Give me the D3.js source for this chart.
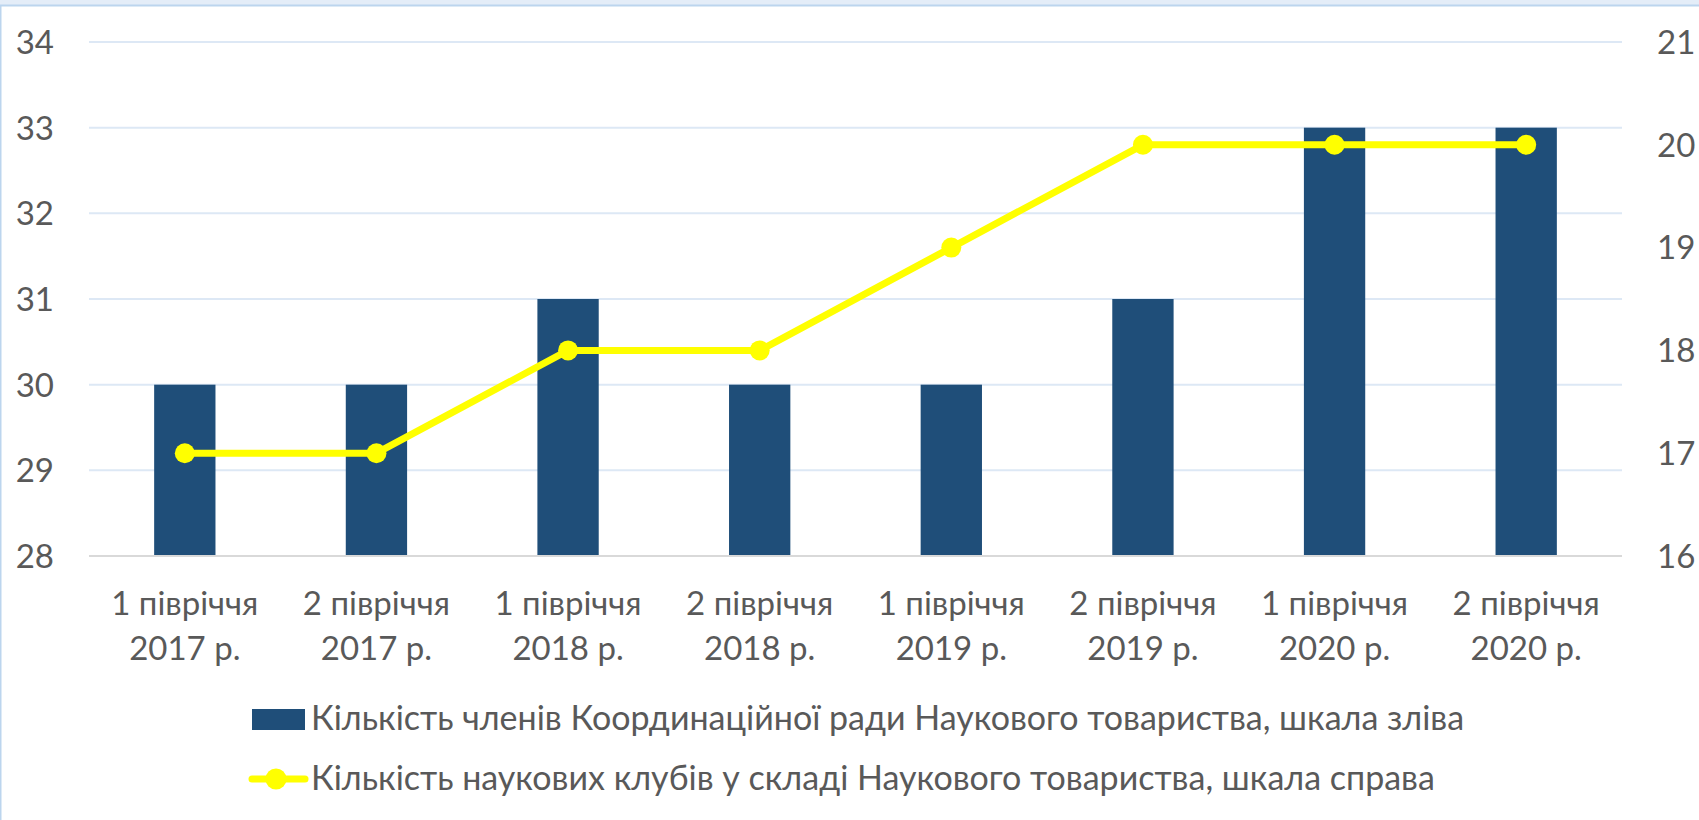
<!DOCTYPE html>
<html>
<head>
<meta charset="utf-8">
<script src="https://cdn.jsdelivr.net/npm/d3@7"></script>
<style>
  html, body { margin: 0; padding: 0; background: #fff; }
  svg { display: block; font-family: Lato, "Open Sans", sans-serif; }
</style>
</head>
<body>
<svg id="chart"></svg>
<script>
// chart data
var categories = ["1 півріччя|2017 р.", "2 півріччя|2017 р.", "1 півріччя|2018 р.", "2 півріччя|2018 р.",
                  "1 півріччя|2019 р.", "2 півріччя|2019 р.", "1 півріччя|2020 р.", "2 півріччя|2020 р."];
var members = [30, 30, 31, 30, 30, 31, 33, 33];
var clubs = [17, 17, 18, 18, 19, 20, 20, 20];
var leftTicks = [28, 29, 30, 31, 32, 33, 34];
var rightTicks = [16, 17, 18, 19, 20, 21];
var seriesNames = ["Кількість членів Координаційної ради Наукового товариства, шкала зліва",
                   "Кількість наукових клубів у складі Наукового товариства, шкала справа"];

var W = 1699, H = 820;
var margin = {top: 42, left: 89, right: 77, bottom: 264};
var fs = 33;

var svg = d3.select("#chart")
  .attr("width", W)
  .attr("height", H);

// frame
svg.append("rect").attr("x", 0).attr("y", 0).attr("width", W).attr("height", 5).attr("fill", "#e4edf8");
svg.append("rect")
  .attr("x", 0.5).attr("y", 5.5).attr("width", W + 5).attr("height", H)
  .attr("fill", "none").attr("stroke", "#bcd5ee").attr("stroke-width", 2);

var x = d3.scaleBand()
  .domain(categories)
  .range([margin.left, W - margin.right])
  .paddingInner(0.68).paddingOuter(0.34);

var yL = d3.scaleLinear().domain([28, 34]).range([H - margin.bottom, margin.top]);
var yR = d3.scaleLinear().domain([16, 21]).range([H - margin.bottom, margin.top]);

// gridlines
svg.append("g")
  .selectAll("line")
  .data(leftTicks.slice(1))
  .join("line")
    .attr("x1", margin.left).attr("x2", W - margin.right)
    .attr("y1", d => yL(d)).attr("y2", d => yL(d))
    .attr("stroke", "#dde8f5").attr("stroke-width", 2);

// bars
svg.append("g")
  .selectAll("rect")
  .data(members)
  .join("rect")
    .attr("x", (d, i) => x(categories[i]))
    .attr("width", x.bandwidth())
    .attr("y", d => yL(d))
    .attr("height", d => yL(28) - yL(d))
    .attr("fill", "#1f4e79");

// baseline
svg.append("line")
  .attr("x1", margin.left).attr("x2", W - margin.right)
  .attr("y1", yL(28)).attr("y2", yL(28))
  .attr("stroke", "#d9d9d9").attr("stroke-width", 2);

// line series
var cx = (d, i) => x(categories[i]) + x.bandwidth() / 2;
svg.append("path")
  .datum(clubs)
  .attr("fill", "none")
  .attr("stroke", "#ffff00")
  .attr("stroke-width", 7)
  .attr("stroke-linejoin", "round")
  .attr("d", d3.line().x(cx).y(d => yR(d)));

svg.append("g")
  .selectAll("circle")
  .data(clubs)
  .join("circle")
    .attr("cx", cx)
    .attr("cy", d => yR(d))
    .attr("r", 10)
    .attr("fill", "#ffff00");

// left axis labels
svg.append("g")
  .selectAll("text")
  .data(leftTicks)
  .join("text")
    .attr("x", 54)
    .attr("y", d => yL(d))
    .attr("dy", "0.36em")
    .attr("text-anchor", "end")
    .attr("font-size", fs)
    .attr("fill", "#595959")
    .text(d => d);

// right axis labels
svg.append("g")
  .selectAll("text")
  .data(rightTicks)
  .join("text")
    .attr("x", 1657)
    .attr("y", d => yR(d))
    .attr("dy", "0.36em")
    .attr("text-anchor", "start")
    .attr("font-size", fs)
    .attr("fill", "#595959")
    .text(d => d);

// category labels
var cat = svg.append("g")
  .selectAll("text")
  .data(categories)
  .join("text")
    .attr("x", d => x(d) + x.bandwidth() / 2)
    .attr("text-anchor", "middle")
    .attr("font-size", fs)
    .attr("fill", "#595959");
cat.append("tspan").attr("x", d => x(d) + x.bandwidth() / 2).attr("y", 615).text(d => d.split("|")[0]);
cat.append("tspan").attr("x", d => x(d) + x.bandwidth() / 2).attr("y", 660).text(d => d.split("|")[1]);

// legend
var legend = svg.append("g");
legend.append("rect")
  .attr("x", 252).attr("y", 709).attr("width", 53).attr("height", 21)
  .attr("fill", "#1f4e79");
legend.append("line")
  .attr("x1", 252).attr("x2", 305).attr("y1", 779).attr("y2", 779)
  .attr("stroke", "#ffff00").attr("stroke-width", 7).attr("stroke-linecap", "round");
legend.append("circle").attr("cx", 276).attr("cy", 779).attr("r", 10.5).attr("fill", "#ffff00");
legend.selectAll("text")
  .data(seriesNames)
  .join("text")
    .attr("x", 311)
    .attr("y", (d, i) => 730 + i * 60)
    .attr("font-size", 34)
    .attr("fill", "#595959")
    .text(d => d);
</script>
</body>
</html>
